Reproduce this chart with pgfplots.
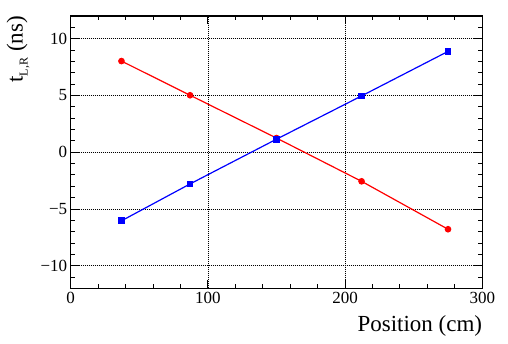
\documentclass[border=0pt]{standalone}
\usepackage{fontspec}
\setmainfont{Liberation Serif}
\usepackage{pgfplots}
\pgfplotsset{compat=1.18}
\begin{document}
\begin{tikzpicture}
\begin{axis}[
 at={(0,0)}, anchor=south west,
 scale only axis, width=411.6pt, height=272.5pt,
 xmin=0, xmax=300, ymin=-12, ymax=12,
 /pgf/number format/assume math mode=true,
 xtick={0,100,200,300}, xticklabels={\textrm{0},\textrm{100},\textrm{200},\textrm{300}},
 ytick={-10,-5,0,5,10}, yticklabels={\textrm{−10},\textrm{−5},\textrm{0},\textrm{5},\textrm{10}},
 minor xtick={0,20,...,300}, minor ytick={-12,-11,...,12},
 tick align=inside, xtick pos=both, ytick pos=both,
 major tick length=8pt, minor tick length=4pt,
 every tick/.style={black, line width=1pt},
 axis line style={line width=1.4pt},
 grid=major, major grid style={black, line width=0.7pt, dash pattern=on 1pt off 1pt},
 tick label style={font=\fontsize{17}{20}\selectfont},
 xlabel={Position (cm)},
 xlabel style={font=\fontsize{23}{27}\selectfont, at={(rel axis cs:1,0)}, anchor=base east, yshift=-43pt, inner sep=0pt},
 ylabel={t\raisebox{-5pt}{\fontsize{12}{12}\selectfont L,R} (ns)},
 ylabel style={font=\fontsize{23}{27}\selectfont, at={(rel axis cs:0,1)}, anchor=base east, inner sep=0pt, yshift=48pt},
]
\addplot[red, line width=1.2pt, mark=*, mark size=2.7pt, mark options={solid, fill=red}] table {
x y
37 8.03
87 5.02
150 1.25
212 -2.56
275 -6.78
};
\addplot[blue, line width=1.2pt, mark=square*, mark size=2.8pt, mark options={solid, fill=blue}] table {
x y
37 -6.04
87 -2.79
150 1.15
212 4.96
275 8.88
};
\end{axis}
\pgfresetboundingbox
\path[use as bounding box] (-70.7pt,-55.5pt) rectangle (437.3pt,288.5pt);
\end{tikzpicture}
\end{document}
